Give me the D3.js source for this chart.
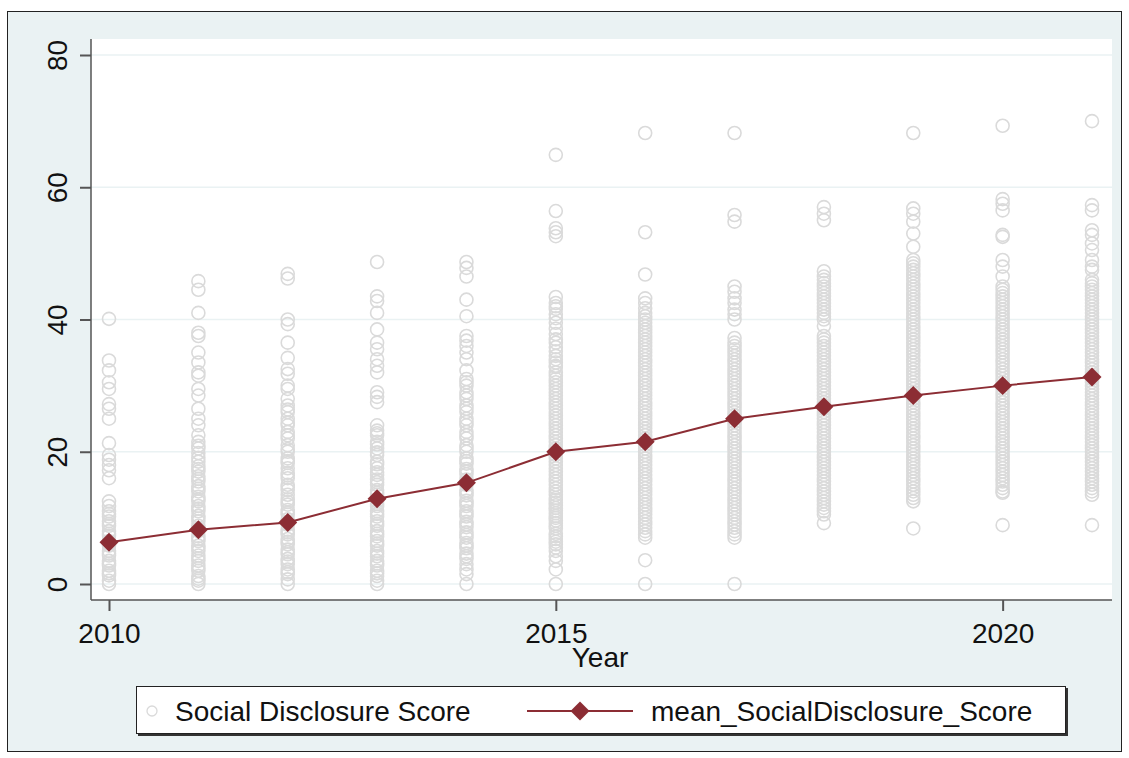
<!DOCTYPE html>
<html>
<head>
<meta charset="utf-8">
<script src="https://cdn.jsdelivr.net/npm/d3@7"></script>
<style>
  body { margin: 0; background: #fff; }
  svg { display: block; font-family: "Liberation Sans", Arial, sans-serif; }
</style>
</head>
<body>
<svg id="chart" width="1129" height="758"></svg>
<script>
// data
const years = [2010, 2011, 2012, 2013, 2014, 2015, 2016, 2017, 2018, 2019, 2020, 2021];
const meanScore = [6.3, 8.2, 9.3, 12.9, 15.3, 20.0, 21.5, 25.0, 26.8, 28.5, 30.0, 31.3];
const yTicks = [0, 20, 40, 60, 80];
const xTicks = [2010, 2015, 2020];

// individual firm scores, one list per year
const s2010 = [40.1, 33.8, 32.3, 30.5, 29.5, 27.2, 26.5, 25.0, 21.3, 19.5, 18.8, 18.0, 17.2, 16.0, 12.5, 11.8, 11.0, 10.6, 10.2, 9.5, 9.1, 8.8, 8.0, 7.6, 7.3, 6.5, 6.1, 5.8, 5.0, 4.6, 4.3, 3.5, 3.1, 2.8, 2.0, 1.6, 1.3, 0.5, 0];
const s2011 = [45.8, 44.5, 41, 38, 37.5, 35, 33.5, 32, 31.5, 29.5, 28.5, 26.5, 25, 24, 22.5, 21.5, 20.9, 20.5, 19.8, 19.1, 18.5, 17.8, 17.4, 17, 16.3, 15.9, 15.5, 14.8, 14.4, 14, 13.2, 12.8, 12.5, 11.8, 11.4, 11, 10.3, 9.9, 9.5, 8.8, 8.4, 8, 7.2, 6.8, 6.5, 5.8, 5.4, 5, 4.3, 3.9, 3.5, 2.8, 2.4, 2, 1.2, 0.8, 0.5, 0];
const s2012 = [46.9, 46.2, 40, 39.3, 36.5, 34.2, 32.5, 31.8, 30, 29.5, 28, 27, 26.4, 26, 25, 24.4, 24, 23, 22.5, 22, 21, 20.4, 20, 19, 18.6, 18.3, 17.5, 16.8, 16.4, 16, 15, 14.6, 14.2, 13.5, 12.8, 12.4, 12, 11.2, 10.8, 10.5, 9.8, 9.4, 9, 8.2, 7.8, 7.5, 6.8, 6.4, 6, 5.2, 4.8, 4.5, 3.8, 3.4, 3, 2.2, 1.8, 1.5, 0.7, 0];
const s2013 = [48.7, 43.5, 42.8, 41, 38.5, 36.5, 35.5, 34, 33, 32, 29, 28.3, 27.5, 24, 23.2, 22.8, 22.5, 21.5, 21.1, 20.5, 19.9, 19.5, 18.5, 18.1, 17.5, 16.9, 16.5, 15.8, 15.4, 15, 14.2, 13.8, 13.5, 12.5, 12.1, 11.8, 11, 10.6, 10.2, 9.5, 9.1, 8.8, 8, 7.6, 7.2, 6.5, 6.1, 5.8, 5, 4.6, 4.2, 3.5, 3.1, 2.8, 2, 1.6, 1.2, 0.5, 0];
const s2014 = [48.7, 47.8, 46.5, 43, 40.5, 37.5, 36.8, 36, 35, 34, 32.3, 31, 30.5, 30, 29, 28.5, 28, 27, 26.5, 26, 25, 24.5, 24, 23, 22.5, 22, 21, 20.5, 20, 19, 18.6, 18.2, 17.4, 17, 16.6, 15.8, 15.4, 15, 14.2, 13.8, 13.4, 12.6, 12.2, 11.8, 11, 10.6, 10.2, 9.4, 9, 8.6, 7.8, 7.4, 7, 6.2, 5.8, 5.4, 4.6, 4.2, 3.8, 3, 2.2, 1.5, 0];
const s2015 = [64.9, 56.4, 53.8, 53.2, 52.6, 43.4, 42.5, 42, 41.6, 40.8, 40.2, 39.5, 38.6, 37.8, 37, 36.5, 35.8, 35.2, 34.5, 34, 33.5, 33, 32.8, 32, 31.5, 31, 30.5, 30, 29.5, 29, 28.5, 28, 27.5, 27, 26.5, 26, 25.5, 25, 24.5, 24, 23.5, 23, 22.5, 22, 21.5, 21, 20.5, 20, 19.5, 19, 18.5, 18, 17.5, 17, 16.5, 16, 15.5, 15, 14.5, 14, 13.5, 13, 12.7, 12.3, 11.9, 11.5, 11.1, 10.7, 10.3, 10, 9.6, 9.2, 8.8, 8.4, 7.6, 7.2, 6.8, 6.4, 6, 5.5, 5, 4.2, 3.5, 2.2, 0];
const s2016 = [68.2, 53.2, 46.8, 43.2, 42.5, 41.7, 41, 40.5, 40, 39.5, 39, 38.5, 38, 37.5, 37, 36.5, 36, 35.5, 35, 34.5, 34, 33.5, 33, 32.5, 32, 31.5, 31, 30.5, 30, 29.5, 29, 28.5, 28, 27.5, 27, 26.5, 26, 25.5, 25, 24.5, 24, 23.5, 23, 22.5, 22, 21.5, 21, 20.5, 20, 19.5, 19, 18.5, 18, 17.5, 17, 16.5, 16, 15.5, 15, 14.5, 14, 13.5, 13, 12.5, 12, 11.5, 11, 10.5, 10, 9.5, 9, 8.5, 8, 7.5, 7, 3.6, 0];
const s2017 = [68.2, 55.8, 54.8, 45, 44.2, 43.2, 42.5, 41.5, 40.8, 40, 37.2, 36.5, 36, 35.5, 35, 34.5, 34, 33.5, 33, 32.5, 32, 31.5, 31, 30.5, 30, 29.5, 29, 28.5, 28, 27.5, 27, 26.5, 26, 25.5, 25, 24.5, 24, 23.5, 23, 22.5, 22, 21.5, 21, 20.5, 20, 19.5, 19, 18.5, 18, 17.5, 17, 16.5, 16, 15.5, 15, 14.5, 14, 13.5, 13, 12.5, 12, 11.5, 11, 10.5, 10, 9.5, 9, 8.5, 8, 7.5, 7, 0];
const s2018 = [57, 56, 55, 47.3, 46.5, 46, 45.5, 45, 44.5, 44, 43.5, 43, 42.5, 42, 41.5, 41, 40.5, 40, 39, 37.5, 37, 36.5, 36, 35.5, 35, 34.5, 34, 33.5, 33, 32.5, 32, 31.5, 31, 30.5, 30, 29.5, 29, 28.5, 28, 27.5, 27, 26.5, 26, 25.5, 25, 24.5, 24, 23.5, 23, 22.5, 22, 21.5, 21, 20.5, 20, 19.5, 19, 18.5, 18, 17.5, 17, 16.5, 16, 15.5, 15, 14.5, 14, 13.5, 13, 12.5, 12, 11.5, 11, 10.5, 9.2];
const s2019 = [68.2, 56.8, 56, 54.8, 53, 51, 49, 48.5, 48, 47.5, 47, 46.5, 46, 45.5, 45, 44.5, 44, 43.5, 43, 42.5, 42, 41.5, 41, 40.5, 40, 39.5, 39, 38.5, 38, 37.5, 37, 36.5, 36, 35.5, 35, 34.5, 34, 33.5, 33, 32.5, 32, 31.5, 31, 30.5, 30, 29.5, 29, 28.5, 28, 27.5, 27, 26.5, 26, 25.5, 25, 24.5, 24, 23.5, 23, 22.5, 22, 21.5, 21, 20.5, 20, 19.5, 19, 18.5, 18, 17.5, 17, 16.5, 16, 15.5, 15, 14.5, 14, 13.5, 13, 12.5, 8.4];
const s2020 = [69.3, 58.2, 57.5, 56.5, 52.8, 52.5, 49, 48, 46.5, 45, 44.5, 44, 43.5, 43, 42.5, 42, 41.5, 41, 40.5, 40, 39.5, 39, 38.5, 38, 37.5, 37, 36.5, 36, 35.5, 35, 34.5, 34, 33.5, 33, 32.5, 32, 31.5, 31, 30.5, 30, 29.5, 29, 28.5, 28, 27.5, 27, 26.5, 26, 25.5, 25, 24.5, 24, 23.5, 23, 22.5, 22, 21.5, 21, 20.5, 20, 19.5, 19, 18.5, 18, 17.5, 17, 16.5, 16, 15.5, 15, 14.5, 14, 13.8, 8.9];
const s2021 = [70, 57.3, 56.5, 53.5, 52.8, 51.5, 50.5, 49, 48, 47.5, 46, 45.5, 45, 44.5, 44, 43.5, 43, 42.5, 42, 41.5, 41, 40.5, 40, 39.5, 39, 38.5, 38, 37.5, 37, 36.5, 36, 35.5, 35, 34.5, 34, 33.5, 33, 32.5, 32, 31.5, 31, 30.5, 30, 29.5, 29, 28.5, 28, 27.5, 27, 26.5, 26, 25.5, 25, 24.5, 24, 23.5, 23, 22.5, 22, 21.5, 21, 20.5, 20, 19.5, 19, 18.5, 18, 17.5, 17, 16.5, 16, 15.5, 15, 14.5, 14, 13.5, 8.9];
const scores = [s2010, s2011, s2012, s2013, s2014, s2015, s2016, s2017, s2018, s2019, s2020, s2021];

const red = "#8c2d34";
const ptColor = "#dadada";
const bgColor = "#eaf2f3";
const fontSize = 28;

const svg = d3.select("#chart");

// outer frame
svg.append("rect").attr("x", 7.5).attr("y", 11.5).attr("width", 1114).attr("height", 740)
  .attr("fill", bgColor).attr("stroke", "#222").attr("stroke-width", 1);

// plot region
const plot = {left: 91, right: 1112, top: 39, bottom: 600};
svg.append("rect").attr("x", plot.left).attr("y", plot.top)
  .attr("width", plot.right - plot.left).attr("height", plot.bottom - plot.top).attr("fill", "#fff");

const x = d3.scaleLinear().domain([2010, 2021]).range([109, 1092]);
const y = d3.scaleLinear().domain([0, 80]).range([584, 55]);

// gridlines
svg.append("g").selectAll("line").data(yTicks).enter().append("line")
  .attr("x1", plot.left).attr("x2", plot.right)
  .attr("y1", d => y(d)).attr("y2", d => y(d))
  .attr("stroke", bgColor).attr("stroke-width", 1.5);

// scatter
const pts = [];
years.forEach((yr, i) => scores[i].forEach(v => pts.push({yr: yr, v: v})));
svg.append("g").selectAll("circle").data(pts).enter().append("circle")
  .attr("cx", d => x(d.yr)).attr("cy", d => y(d.v)).attr("r", 6.5)
  .attr("fill", "none").attr("stroke", ptColor).attr("stroke-width", 1.6);

// mean line + diamonds
const means = years.map((yr, i) => ({yr: yr, v: meanScore[i]}));
svg.append("path").datum(means)
  .attr("d", d3.line().x(d => x(d.yr)).y(d => y(d.v)))
  .attr("fill", "none").attr("stroke", red).attr("stroke-width", 2);
const diamond = d3.symbol().type(d3.symbolDiamond2).size(230);
svg.append("g").selectAll("path").data(means).enter().append("path")
  .attr("d", diamond)
  .attr("transform", d => `translate(${x(d.yr)},${y(d.v)})`)
  .attr("fill", red);

// axes
const yAxis = svg.append("g").attr("transform", `translate(${plot.left},0)`)
  .call(d3.axisLeft(y).tickValues(yTicks).tickSize(11).tickSizeOuter(0));
yAxis.select(".domain").attr("d", `M0,${plot.top}V${plot.bottom}`);
yAxis.selectAll("text").attr("transform", "rotate(-90)")
  .attr("x", 0).attr("y", -24).attr("dy", "0").attr("text-anchor", "middle");

const xAxis = svg.append("g").attr("transform", `translate(0,${plot.bottom})`)
  .call(d3.axisBottom(x).tickValues(xTicks).tickFormat(d3.format("d")).tickSize(11).tickSizeOuter(0));
xAxis.select(".domain").attr("d", `M${plot.left},0H${plot.right}`);
xAxis.selectAll("text").attr("y", 43).attr("dy", "0");

svg.selectAll(".domain").attr("stroke", "#555").attr("stroke-width", 1.5);
svg.selectAll(".tick line").attr("stroke", "#555").attr("stroke-width", 2);
svg.selectAll(".tick text").attr("font-size", fontSize).attr("fill", "#111")
  .attr("font-family", "Liberation Sans, Arial, sans-serif");

svg.append("text").attr("x", 600).attr("y", 667).attr("text-anchor", "middle")
  .attr("font-size", fontSize).attr("fill", "#111").text("Year");

// legend
const lg = svg.append("g");
lg.append("rect").attr("x", 138).attr("y", 688).attr("width", 930).attr("height", 48).attr("fill", "#333");
lg.append("rect").attr("x", 136.5).attr("y", 686.5).attr("width", 929).attr("height", 47)
  .attr("fill", "#fff").attr("stroke", "#222").attr("stroke-width", 1);
lg.append("circle").attr("cx", 152).attr("cy", 711).attr("r", 5)
  .attr("fill", "none").attr("stroke", ptColor).attr("stroke-width", 1.3);
lg.append("text").attr("x", 175).attr("y", 721).attr("font-size", fontSize).attr("fill", "#111")
  .text("Social Disclosure Score");
lg.append("line").attr("x1", 527).attr("x2", 633).attr("y1", 711).attr("y2", 711)
  .attr("stroke", red).attr("stroke-width", 2);
lg.append("path").attr("d", diamond).attr("transform", "translate(580,711)").attr("fill", red);
lg.append("text").attr("x", 651).attr("y", 721).attr("font-size", fontSize).attr("fill", "#111")
  .text("mean_SocialDisclosure_Score");
</script>
</body>
</html>
